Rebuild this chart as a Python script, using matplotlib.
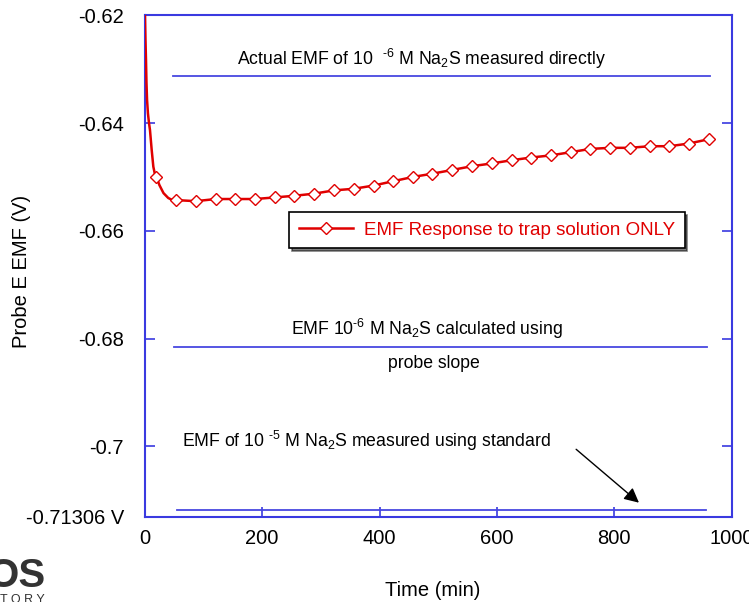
import matplotlib
matplotlib.use("Agg")
import matplotlib.pyplot as plt

plt.rcParams['font.family'] = ['Liberation Sans', 'DejaVu Sans']
plt.rcParams['mathtext.fontset'] = 'custom'
plt.rcParams['mathtext.rm'] = 'Liberation Sans'
plt.rcParams['mathtext.it'] = 'Liberation Sans:italic'
plt.rcParams['mathtext.default'] = 'regular'
plt.rcParams['axes.unicode_minus'] = False

# initial fast drop of the probe (line only, no markers)
t_drop = [0.5, 1.3, 2.2, 3.0, 4.0, 5.5, 7.3, 9.0, 11.9, 14.7, 17.0]
emf_drop = [-0.6200, -0.6245, -0.6283, -0.6325, -0.6357, -0.6382, -0.6400,
            -0.6413, -0.6450, -0.6481, -0.6493]

# logged readings (marked points)
t_pts = [20, 54, 87, 121, 154, 188, 222, 255, 289, 322, 356, 390, 423, 457, 490,
         524, 558, 591, 625, 658, 692, 726, 759, 793, 826, 860, 894, 927, 961]
emf_pts = [-0.6500, -0.6543, -0.6545, -0.6541, -0.6541, -0.6541, -0.6538, -0.6535,
           -0.6531, -0.6525, -0.6522, -0.6516, -0.6508, -0.6500, -0.6494, -0.6487,
           -0.6480, -0.6475, -0.6469, -0.6464, -0.6460, -0.6454, -0.6448, -0.6446,
           -0.6446, -0.6443, -0.6443, -0.6438, -0.6430]

# line between the first two readings follows the settling curve
t_settle = [25, 32, 40, 47]
emf_settle = [-0.6515, -0.6530, -0.6539, -0.6543]

# reference EMF levels (horizontal lines)
ref_emf = [-0.6312, -0.6815, -0.7119]
ref_t0 = [48, 50, 55]
ref_t1 = [963, 958, 957]

y_ticks = [-0.62, -0.64, -0.66, -0.68, -0.70, -0.71306]
y_ticklabels = ['-0.62', '-0.64', '-0.66', '-0.68', '-0.7', '-0.71306 V']
x_ticks = [0, 200, 400, 600, 800, 1000]

spine_blue = '#3a3ae0'
line_blue = '#4848e0'
red = '#e00000'

fig = plt.figure(figsize=(7.49, 6.02), dpi=100)
ax = fig.add_axes([0.1932, 0.1417, 0.7837, 0.8329])

t_all = t_drop + t_pts[:1] + t_settle + t_pts[1:]
emf_all = emf_drop + emf_pts[:1] + emf_settle + emf_pts[1:]
mark_idx = [i for i, t in enumerate(t_all) if t in t_pts]
ax.plot(t_all, emf_all, color=red, lw=1.8, marker='D', markersize=6,
        markerfacecolor='white', markeredgecolor=red, markeredgewidth=1,
        markevery=mark_idx,
        label='EMF Response to trap solution ONLY', zorder=3)

for v, a, b in zip(ref_emf, ref_t0, ref_t1):
    ax.plot([a, b], [v, v], color=line_blue, lw=1.3, zorder=2)

ax.set_xlim(0, 1000)
ax.set_ylim(-0.71306, -0.62)
ax.set_xticks(x_ticks)
ax.set_yticks(y_ticks)
ax.set_yticklabels(y_ticklabels)

for s in ax.spines.values():
    s.set_color(spine_blue)
    s.set_linewidth(1.5)

ax.tick_params(axis='both', direction='in', length=7, width=1.2, color=spine_blue,
               labelsize=14.5, labelcolor='black')
ax.tick_params(axis='y', right=True, pad=15)
ax.tick_params(axis='x', pad=9)

ax.set_xlabel('Time (min)', fontsize=14.5)
ax.set_ylabel('Probe E EMF (V)', fontsize=14.5)
ax.xaxis.set_label_coords(0.49, -0.128)
ax.yaxis.set_label_coords(-0.193, 0.49)

fs = 12.7
ax.text(472, -0.62922, r'Actual EMF of 10  $^{\text{-6}}$ M Na$_2$S measured directly',
        ha='center', va='baseline', fontsize=fs)
ax.text(481, -0.67934, r'EMF 10$^{\text{-6}}$ M Na$_2$S calculated using',
        ha='center', va='baseline', fontsize=fs)
ax.text(493, -0.68551, 'probe slope', ha='center', va='baseline', fontsize=fs)
ax.text(377, -0.70007, r'EMF of 10 $^{\text{-5}}$ M Na$_2$S measured using standard',
        ha='center', va='baseline', fontsize=fs)

ax.annotate('', xy=(842, -0.71046), xytext=(735, -0.70055),
            arrowprops=dict(arrowstyle='-|>', color='black', lw=1,
                            mutation_scale=22, shrinkA=0, shrinkB=0))

leg = ax.legend(loc='center', bbox_to_anchor=(0.5830, 0.5718), fontsize=13.5,
                frameon=True, fancybox=False, shadow={'color': 'black'},
                handlelength=2.9, handletextpad=0.6, borderpad=0.5,
                labelcolor=red)
leg.get_frame().set_edgecolor('black')
leg.get_frame().set_linewidth(1.2)

# corner logo
fig.text(46 / 749, 1 - 587 / 602, 'OS', ha='right', va='baseline',
         fontsize=29, fontweight='bold', color='#333333')
fig.text(45 / 749, 1 - 594 / 602, 'T O R Y', ha='right', va='top',
         fontsize=9, color='#333333')

fig.savefig('out.png', dpi=100)
